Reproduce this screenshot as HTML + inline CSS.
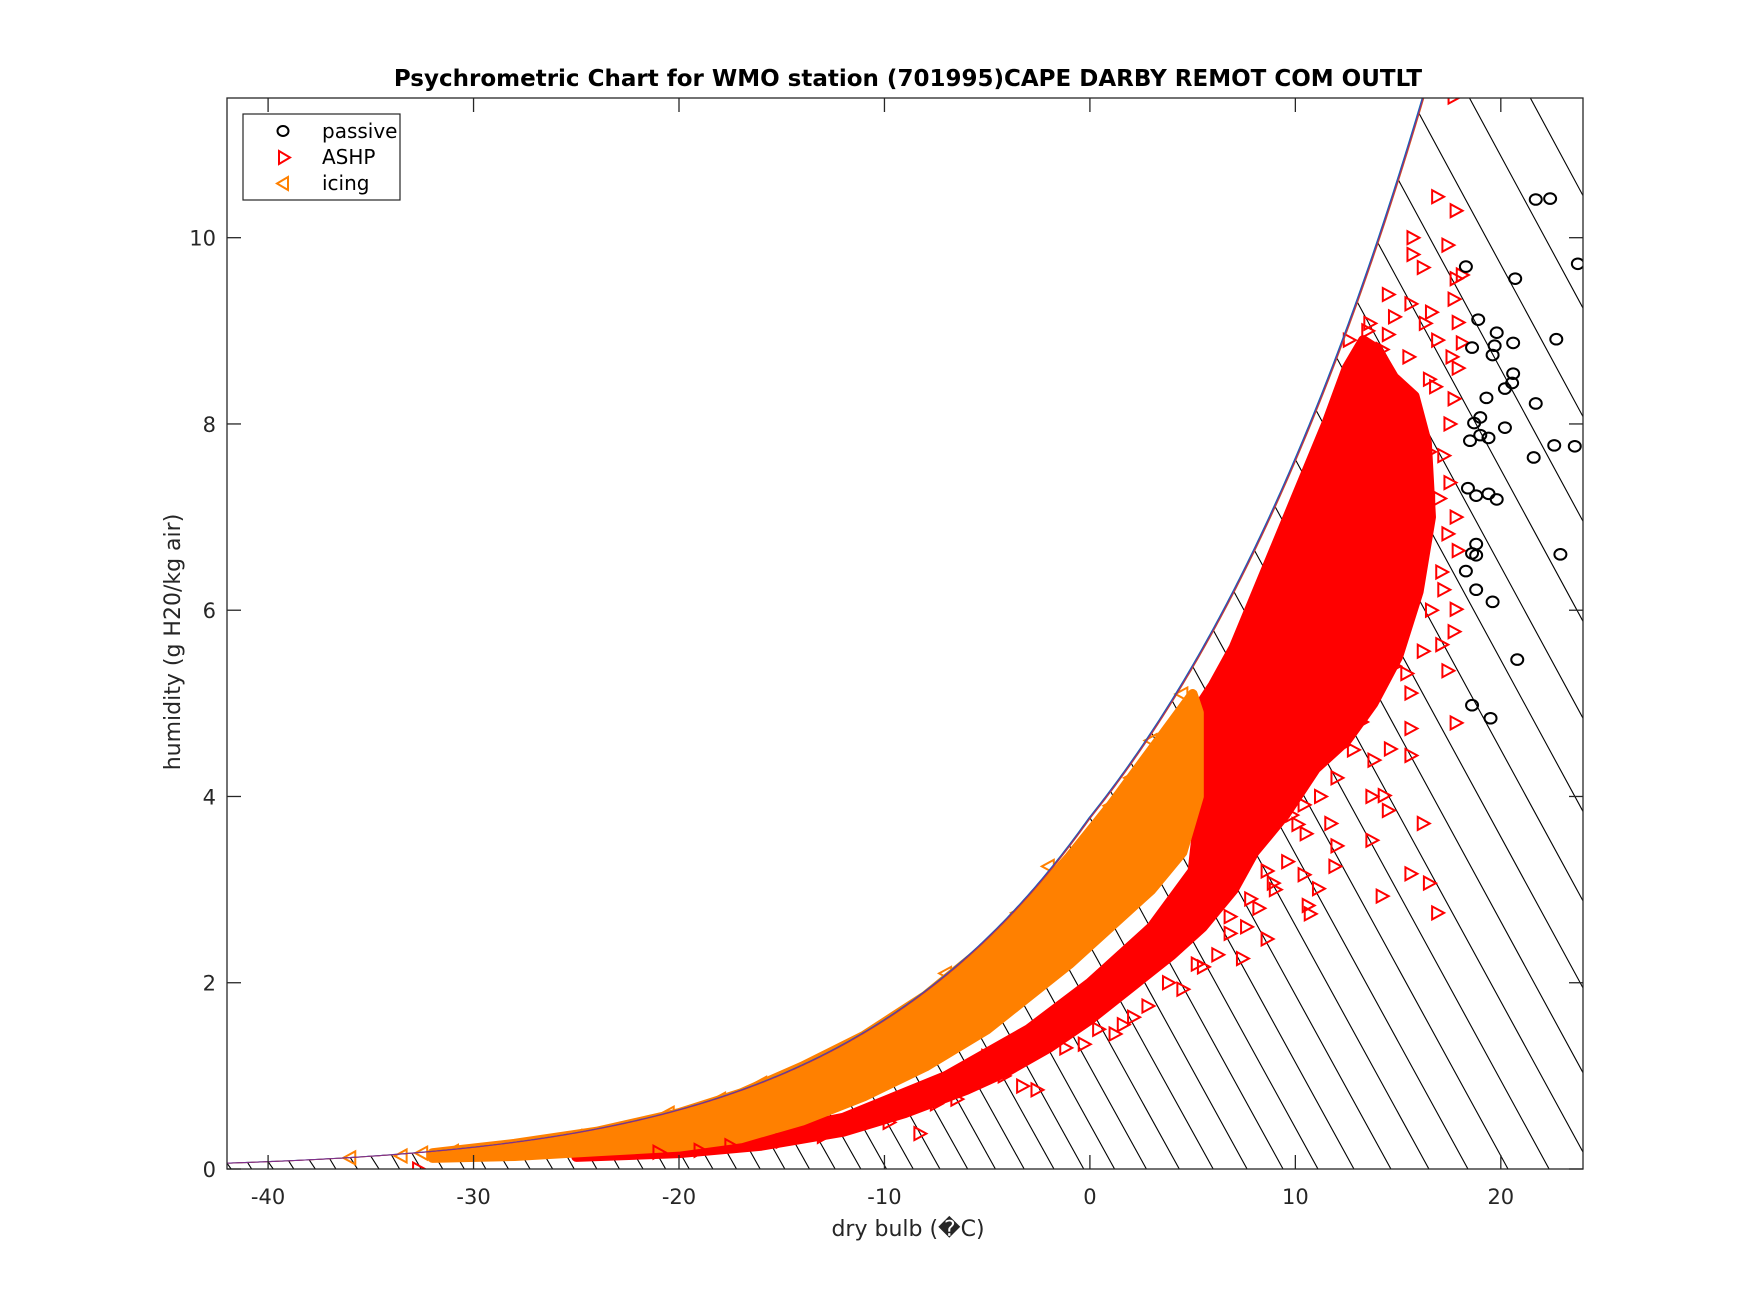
<!DOCTYPE html>
<html><head><meta charset="utf-8">
<style>
html,body{margin:0;padding:0;background:#fff;}
svg{display:block;font-family:"Liberation Sans","DejaVu Sans",sans-serif;}
</style></head>
<body>
<svg id="chart" width="1750" height="1313" viewBox="0 0 1750 1313">
  <rect x="0" y="0" width="1750" height="1313" fill="#fff"/>
  <defs><clipPath id="plotclip"><rect x="227" y="98" width="1356" height="1071"/></clipPath></defs>
  <g id="hatch" clip-path="url(#plotclip)"></g>
  <g id="cores" clip-path="url(#plotclip)"></g>
  <g id="marks" clip-path="url(#plotclip)"></g>
  <g id="sat" clip-path="url(#plotclip)"></g>
  <g id="axes"></g>
  <text x="908" y="86" text-anchor="middle" font-size="23" font-weight="bold" fill="#000" font-family="'DejaVu Sans','Liberation Sans',sans-serif">Psychrometric Chart for WMO station (701995)CAPE DARBY REMOT COM OUTLT</text>
  <text x="908" y="1236" text-anchor="middle" font-size="22" fill="#262626" font-family="'DejaVu Sans','Liberation Sans',sans-serif">dry bulb (�C)</text>
  <text transform="translate(180,642) rotate(-90)" text-anchor="middle" font-size="22" fill="#262626" font-family="'DejaVu Sans','Liberation Sans',sans-serif">humidity (g H20/kg air)</text>
  <g>
    <rect x="243" y="114" width="157" height="86" fill="#fff" stroke="#262626" stroke-width="1.2"/>
    <ellipse cx="283" cy="131" rx="5.5" ry="5" fill="none" stroke="#000" stroke-width="2"/>
    <text x="322" y="138" font-size="20" fill="#000" font-family="'DejaVu Sans','Liberation Sans',sans-serif">passive</text>
    <polygon points="279,151 279,164 290,157.5" fill="none" stroke="#f00" stroke-width="2"/>
    <text x="322" y="164" font-size="20" fill="#000" font-family="'DejaVu Sans','Liberation Sans',sans-serif">ASHP</text>
    <polygon points="288,177 288,190 277,183.5" fill="none" stroke="#ff8000" stroke-width="2"/>
    <text x="322" y="190" font-size="20" fill="#000" font-family="'DejaVu Sans','Liberation Sans',sans-serif">icing</text>
  </g>
</svg>
<script>
// ---- data ----
const xTicks = [-40,-30,-20,-10,0,10,20];
const yTicks = [0,2,4,6,8,10];
const passiveT = [21.7,22.4,23.75,18.3,20.7,18.9,18.6,19.8,19.7,20.6,22.7,19.6,20.6,20.55,20.2,19.3,21.7,19.0,18.7,20.2,19.0,18.5,19.4,22.6,23.6,21.6,18.4,19.4,18.8,19.8,22.9,18.8,18.6,18.8,18.3,18.8,19.6,20.8,18.6,19.5];
const passiveW = [10.41,10.42,9.72,9.69,9.56,9.12,8.82,8.98,8.84,8.87,8.91,8.74,8.54,8.44,8.38,8.28,8.22,8.07,8.01,7.96,7.88,7.82,7.85,7.77,7.76,7.64,7.31,7.25,7.23,7.19,6.60,6.71,6.61,6.59,6.42,6.22,6.09,5.47,4.98,4.84];
const ashpT = [17.7,16.9,17.8,15.7,15.7,17.4,16.2,18.1,17.8,14.5,17.7,15.6,16.6,14.8,13.6,17.9,16.3,18.1,16.9,14.5,15.5,17.6,13.8,17.9,16.5,17.7,17.5,17.2,17.5,17.8,17.4,17.9,17.1,17.2,17.8,17.7,17.1,17.4,16.2,15.4,15.6,17.8,15.6,14.6,15.6,13.8,12.3,14.3,14.5,13.7,16.2,13.7,10.4,10.1,11.7,12.0,11.9,10.4,11.1,10.6,10.7,14.2,15.6,16.5,16.9,8.9,8.6,7.4,5.5,4.5,2.1,1.2,-0.3,-2.6,-3.3,-5.0,-8.3,-32.7,6.8,6.8,
  16.8,16.5,17.0,16.2,15.8,16.6,15.2,14.8,14.0,13.2,12.8,12.0,11.2,10.5,9.6,9.0,8.2,7.6,6.2,5.2,3.8,2.8,1.6,0.4,-1.2,-4.2,-6.5,-7.5,-9.8,-11.5,-13.0,-15.0,-17.5,-19.0,-21.0,13.5,14.2,12.6,11.8,10.8,9.8,8.6,7.8,15.2,16.0,14.6,13.0];
const ashpW = [11.51,10.44,10.29,10.0,9.82,9.92,9.68,9.6,9.56,9.39,9.34,9.29,9.2,9.15,9.08,9.09,9.08,8.87,8.9,8.96,8.72,8.72,8.78,8.6,8.48,8.27,8.0,7.66,7.37,7.0,6.82,6.64,6.41,6.22,6.01,5.77,5.63,5.35,5.56,5.32,5.11,4.79,4.73,4.51,4.44,4.39,4.55,4.01,3.85,4.0,3.71,3.53,3.91,3.70,3.71,3.47,3.25,3.16,3.01,2.83,2.74,2.93,3.17,3.07,2.75,3.07,2.47,2.26,2.17,1.93,1.63,1.45,1.34,0.85,0.89,1.21,0.38,0.0,2.53,2.71,
  8.4,7.7,7.2,6.9,6.4,6.0,5.9,5.4,5.2,4.8,4.5,4.2,4.0,3.6,3.3,3.0,2.8,2.6,2.3,2.2,2.0,1.75,1.55,1.5,1.3,1.0,0.75,0.7,0.5,0.45,0.35,0.3,0.25,0.2,0.18,9.0,8.8,8.9,4.6,4.3,3.8,3.2,2.9,7.9,7.1,6.3,5.8];
const icingT = [-36,-33.5,-32.5,-31,-29,-27,-20.5,-16,-15,-12,-7,-3.5,-2,1,3,4.5,-25,-22,-18,-10,-5,0,2];
const icingW = [0.12,0.14,0.17,0.19,0.2,0.23,0.6,0.92,0.98,1.25,2.1,2.75,3.25,3.9,4.6,5.1,0.35,0.45,0.75,1.55,2.3,3.5,4.2];
// envelopes of the densely overplotted regions
const ashpCoreT = [-25,-20,-16,-12,-9,-6,-4,-2,0,2,4,5.5,7,8,9.5,11,12.5,13.8,15,16,16.6,16.4,15.8,14.8,14,13.3,12.5,11.5,10,8.5,7,6,5.4,5.4,5,3,0,-3,-7,-12,-17,-22,-25];
const ashpCoreW = [0.13,0.17,0.25,0.4,0.6,0.85,1.05,1.3,1.6,1.95,2.3,2.6,3.0,3.4,3.8,4.3,4.6,5.0,5.5,6.2,7.0,7.8,8.3,8.5,8.8,8.9,8.6,8.0,7.2,6.4,5.6,5.2,5.0,4.0,3.2,2.6,2.0,1.5,1.0,0.55,0.33,0.23,0.2];
const icingCoreT = [-32,-28,-24,-20,-17,-14,-11,-8,-5,-3,-1,1,3,4.5,5.3,5.3,5,3,1,-1,-3,-5,-8,-11,-14,-17,-20,-24,-28,-32];
const icingCoreW = [0.12,0.14,0.19,0.24,0.33,0.52,0.78,1.1,1.5,1.85,2.2,2.6,3.0,3.4,4.0,4.9,5.1,4.5,3.9,3.35,2.85,2.4,1.86,1.43,1.1,0.81,0.6,0.4,0.27,0.17];

// ---- axes ----
const X0=227, X1=1583, Y0=1169, Y1=98, TMIN=-42, TMAX=24, WMAX=11.5;
const sx = t => X0 + (t-TMIN)/(TMAX-TMIN)*(X1-X0);
const sy = w => Y0 - w/WMAX*(Y0-Y1);
const NS='http://www.w3.org/2000/svg';
function mk(tag, attrs, parent){const e=document.createElementNS(NS,tag);for(const k in attrs)e.setAttribute(k,attrs[k]);parent.appendChild(e);return e;}
function esat(T){return T>=0?0.61094*Math.exp(17.625*T/(T+243.04)):0.61115*Math.exp(22.452*T/(272.55+T));}
function ws(T){const e=esat(T);return 622*e/(101.325-e);}

// wet-bulb lines
const hatch=document.getElementById('hatch');
for(let tw=-45; tw<=30; tw++){
  const w0=ws(tw);
  const f=T=>((2501-2.326*tw)*w0-1006*(T-tw))/(2501+1.86*T-4.186*tw);
  let T1=tw; while(f(T1)>0) T1+=0.05;
  const l=mk('line',{x1:sx(tw),y1:sy(w0),x2:sx(T1),y2:sy(0),stroke:'#000','stroke-width':1.1},hatch);
  
  
}

// density cores
const cores=document.getElementById('cores');
function poly(Ts,Ws,color,name){
  const p=mk('polygon',{points:Ts.map((t,i)=>sx(t)+','+sy(Ws[i])).join(' '),fill:color,stroke:color,'stroke-width':10,'stroke-linejoin':'round'},cores);
  
  
}
poly(ashpCoreT,ashpCoreW,'#ff0000','ashp-dense-region');
poly(icingCoreT,icingCoreW,'#ff8000','icing-dense-region');

// markers
const marks=document.getElementById('marks');
ashpT.forEach((t,i)=>{const x=sx(t),y=sy(ashpW[i]);
  const m=mk('polygon',{points:`${x-5},${y-6.5} ${x-5},${y+6.5} ${x+7},${y}`,fill:'none',stroke:'#ff0000','stroke-width':2},marks);
  
  });
icingT.forEach((t,i)=>{const x=sx(t),y=sy(icingW[i]);
  const m=mk('polygon',{points:`${x+5},${y-6.5} ${x+5},${y+6.5} ${x-7},${y}`,fill:'none',stroke:'#ff8000','stroke-width':2},marks);
  
  });
passiveT.forEach((t,i)=>{
  const m=mk('ellipse',{cx:sx(t),cy:sy(passiveW[i]),rx:6,ry:5.3,fill:'none',stroke:'#000','stroke-width':2},marks);
  
  });

// saturation curve
const sat=document.getElementById('sat');
let pts=[];for(let t=TMIN;t<=18;t+=0.1)pts.push(sx(t)+','+sy(ws(t)));
[['#0072bd',-0.8],['#d95319',0.8],['#7e2f8e',0]].forEach(([c,o])=>{
  const l=mk('polyline',{points:pts.join(' '),fill:'none',stroke:c,'stroke-width':1.1,transform:`translate(${o},0)`},sat);
  
  });

// frame and ticks
const ax=document.getElementById('axes');
const fr=mk('rect',{x:X0,y:Y1,width:X1-X0,height:Y0-Y1,fill:'none',stroke:'#262626','stroke-width':1.3},ax);


xTicks.forEach(t=>{const x=sx(t);
  mk('line',{x1:x,y1:Y0,x2:x,y2:Y0-14,stroke:'#262626','stroke-width':1.3},ax);
  mk('line',{x1:x,y1:Y1,x2:x,y2:Y1+14,stroke:'#262626','stroke-width':1.3},ax);
  const tx=mk('text',{x:x,y:Y0+35,'text-anchor':'middle','font-size':21,fill:'#262626','font-family':"'DejaVu Sans','Liberation Sans',sans-serif"},ax);
  tx.textContent=t;
  
  });
yTicks.forEach(w=>{const y=sy(w);
  mk('line',{x1:X0,y1:y,x2:X0+14,y2:y,stroke:'#262626','stroke-width':1.3},ax);
  mk('line',{x1:X1,y1:y,x2:X1-14,y2:y,stroke:'#262626','stroke-width':1.3},ax);
  const tx=mk('text',{x:X0-11,y:y+8,'text-anchor':'end','font-size':21,fill:'#262626','font-family':"'DejaVu Sans','Liberation Sans',sans-serif"},ax);
  tx.textContent=w;
  
  });
</script>
</body></html>
